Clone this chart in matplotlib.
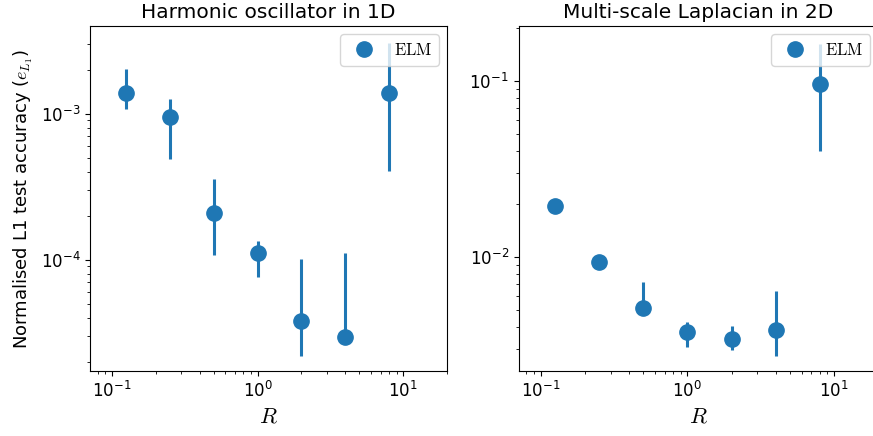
import matplotlib.pyplot as plt
import numpy as np

plt.rcParams['mathtext.fontset'] = 'cm'

R = [0.125, 0.25, 0.5, 1, 2, 4, 8]

# Harmonic oscillator in 1D
ho_mid = [1.38e-3, 9.5e-4, 2.08e-4, 1.11e-4, 3.8e-5, 2.95e-5, 1.38e-3]
ho_low = [1.08e-3, 4.9e-4, 1.08e-4, 7.65e-5, 2.2e-5, 2.9e-5, 4.05e-4]
ho_high = [2.01e-3, 1.27e-3, 3.56e-4, 1.35e-4, 1.02e-4, 1.12e-4, 3.06e-3]

# Multi-scale Laplacian in 2D
ml_mid = [1.96e-2, 9.3e-3, 5.13e-3, 3.74e-3, 3.43e-3, 3.86e-3, 9.7e-2]
ml_low = [1.94e-2, 9.2e-3, 4.7e-3, 3.08e-3, 2.94e-3, 2.72e-3, 4.01e-2]
ml_high = [1.99e-2, 9.4e-3, 7.21e-3, 4.26e-3, 4.05e-3, 6.41e-3, 1.64e-1]

titles = ['Harmonic oscillator in 1D', 'Multi-scale Laplacian in 2D']
series = [(ho_mid, ho_low, ho_high), (ml_mid, ml_low, ml_high)]
ylims = [(1.73e-5, 3.98e-3), (2.24e-3, 0.206)]

fig = plt.figure(figsize=(8.73, 4.36), dpi=100)
# right panel runs past the figure edge, as in the cropped original
positions = [[0.1031, 0.149, 0.409, 0.791], [0.594, 0.149, 0.412, 0.791]]

for i in range(2):
    ax = fig.add_axes(positions[i])
    mid, low, high = (np.array(s) for s in series[i])
    yerr = [mid - low, high - mid]
    ax.errorbar(R, mid, yerr=yerr, fmt='none', ecolor='#1f77b4', elinewidth=2.2)
    ax.plot(R, mid, 'o', color='#1f77b4', markersize=11, label=r'$\mathrm{ELM}$')
    ax.set_xscale('log')
    ax.set_yscale('log')
    ax.set_xlim(0.0707, 20)
    ax.set_ylim(*ylims[i])
    ax.set_title(titles[i], fontsize=14.5)
    ax.set_xlabel(r'$R$', fontsize=16)
    ax.tick_params(labelsize=12)
    ax.legend(loc='upper right', fontsize=12)
    if i == 0:
        ax.set_ylabel(r'Normalised L1 test accuracy ($e_{L_1}$)', fontsize=13)

fig.savefig('out.png', dpi=100)
